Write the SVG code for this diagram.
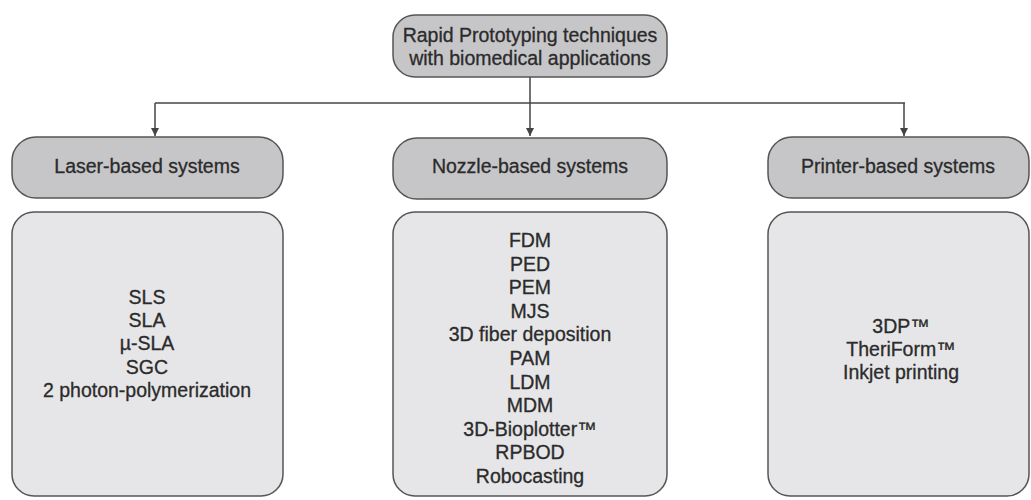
<svg xmlns="http://www.w3.org/2000/svg" width="1031" height="500" viewBox="0 0 1031 500">
<defs>
<style>
.hdr{fill:#c6c6c8;stroke:#555;stroke-width:1.5}
.box{fill:#e6e6e8;stroke:#555;stroke-width:1.5}
.t{font-family:"Liberation Sans",Arial,sans-serif;font-size:19.5px;fill:#2b2b2b;stroke:#2b2b2b;stroke-width:0.3;text-anchor:middle}
.c{fill:none;stroke:#444;stroke-width:1.5}
</style>
<marker id="ah" viewBox="0 0 10 10" refX="10" refY="5" markerWidth="8" markerHeight="8" markerUnits="userSpaceOnUse" orient="auto">
<path d="M0,0 L10,5 L0,10 z" fill="#444"/>
</marker>
</defs>
<rect width="1031" height="500" fill="#fff"/>
<g id="connectors">
<path class="c" d="M530,77 V103"/>
<path class="c" d="M155,103 H905"/>
<path class="c" d="M155,103 V136" marker-end="url(#ah)"/>
<path class="c" d="M530,103 V136" marker-end="url(#ah)"/>
<path class="c" d="M904,103 V136" marker-end="url(#ah)"/>
</g>
<g id="root">
<rect class="hdr" x="393" y="15" width="274" height="62" rx="22"/>
<text class="t" x="530" y="42">Rapid Prototyping techniques</text>
<text class="t" x="530" y="65">with biomedical applications</text>
</g>
<g id="laser">
<rect class="hdr" x="12" y="137" width="271" height="61" rx="24"/>
<text class="t" x="147" y="173">Laser-based systems</text>
</g>
<g id="nozzle">
<rect class="hdr" x="393" y="138" width="274" height="61" rx="24"/>
<text class="t" x="530" y="173">Nozzle-based systems</text>
</g>
<g id="printer">
<rect class="hdr" x="768" y="137" width="261" height="61" rx="24"/>
<text class="t" x="898" y="173">Printer-based systems</text>
</g>
<g id="laser-list">
<rect class="box" x="12" y="212" width="271" height="284" rx="22"/>
<text class="t" x="147" y="304">SLS</text>
<text class="t" x="147" y="327">SLA</text>
<text class="t" x="147" y="350">µ-SLA</text>
<text class="t" x="147" y="374">SGC</text>
<text class="t" x="147" y="397">2 photon-polymerization</text>
</g>
<g id="nozzle-list">
<rect class="box" x="393" y="212" width="274" height="284" rx="22"/>
<text class="t" x="530" y="247">FDM</text>
<text class="t" x="530" y="270.6">PED</text>
<text class="t" x="530" y="294.2">PEM</text>
<text class="t" x="530" y="317.8">MJS</text>
<text class="t" x="530" y="341.4">3D fiber deposition</text>
<text class="t" x="530" y="365">PAM</text>
<text class="t" x="530" y="388.6">LDM</text>
<text class="t" x="530" y="412.2">MDM</text>
<text class="t" x="530" y="435.8">3D-Bioplotter™</text>
<text class="t" x="530" y="459.4">RPBOD</text>
<text class="t" x="530" y="483">Robocasting</text>
</g>
<g id="printer-list">
<rect class="box" x="768" y="212" width="261" height="284" rx="22"/>
<text class="t" x="901" y="333">3DP™</text>
<text class="t" x="901" y="356">TheriForm™</text>
<text class="t" x="901" y="379">Inkjet printing</text>
</g>
</svg>
